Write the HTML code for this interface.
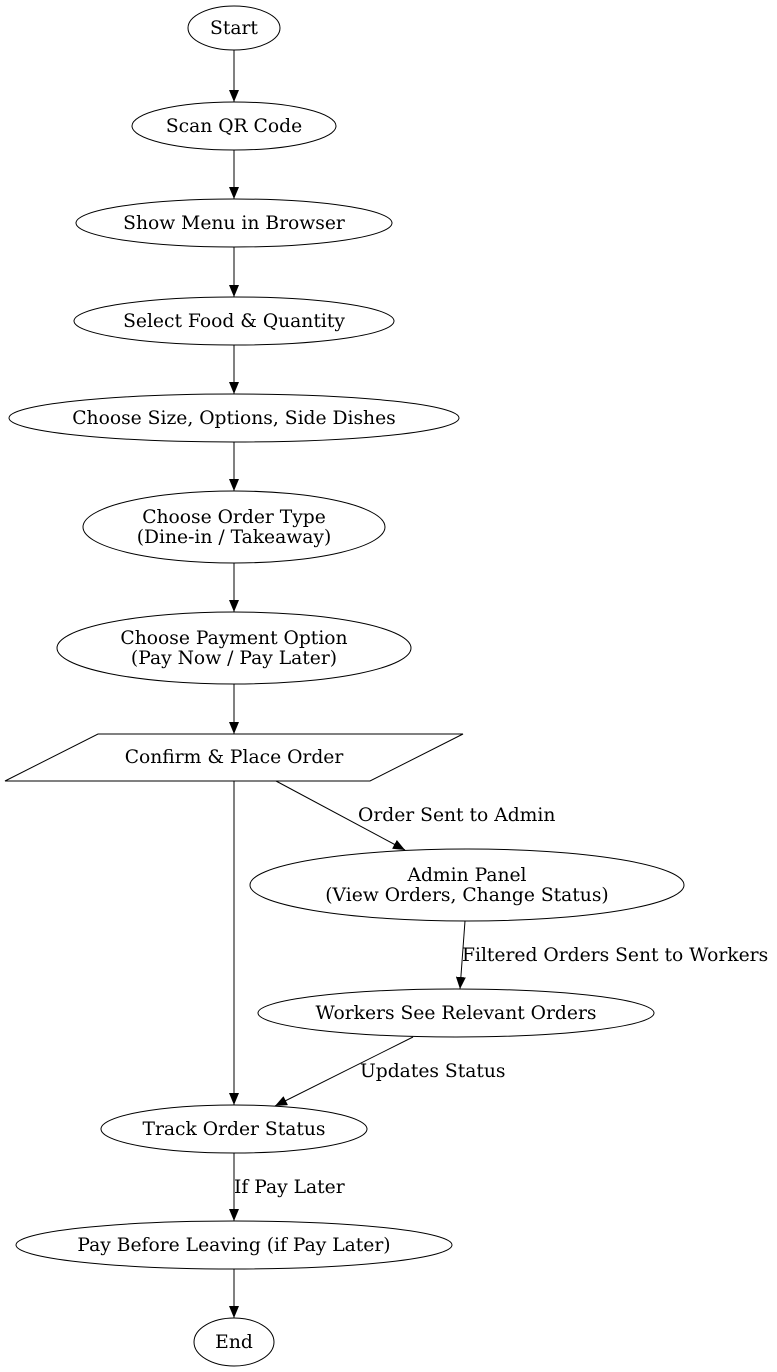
<!DOCTYPE html>
<html><head><style>
html,body{margin:0;padding:0;background:#fff;}
svg{display:block;}
text{font-family:"DejaVu Serif",serif;font-size:18.7px;fill:#000;}
</style></head><body>
<svg width="777" height="1372" viewBox="0 0 777 1372" xmlns="http://www.w3.org/2000/svg">
<defs>
<marker id="a" markerWidth="12" markerHeight="10" refX="12" refY="5" orient="auto" markerUnits="userSpaceOnUse">
<path d="M0,0 L12,5 L0,10 Z" fill="#000"/>
</marker>
</defs>
<g fill="none" stroke="#000" stroke-width="1">
<ellipse cx="234" cy="28" rx="46" ry="22"/>
<ellipse cx="234" cy="126" rx="102" ry="24"/>
<ellipse cx="234" cy="223" rx="158" ry="24"/>
<ellipse cx="234" cy="321" rx="160" ry="24"/>
<ellipse cx="234" cy="418" rx="225" ry="24"/>
<ellipse cx="234" cy="527" rx="151" ry="36"/>
<ellipse cx="234" cy="648" rx="177" ry="36"/>
<polygon points="98,734 463,734 370,781 5,781"/>
<ellipse cx="467" cy="885" rx="217" ry="36"/>
<ellipse cx="456" cy="1013" rx="198" ry="24"/>
<ellipse cx="234" cy="1129" rx="133" ry="24"/>
<ellipse cx="234" cy="1245" rx="218" ry="24"/>
<ellipse cx="234" cy="1342" rx="40" ry="24"/>
<g marker-end="url(#a)">
<line x1="234" y1="50" x2="234" y2="102"/>
<line x1="234" y1="150" x2="234" y2="199"/>
<line x1="234" y1="247" x2="234" y2="297"/>
<line x1="234" y1="345" x2="234" y2="394"/>
<line x1="234" y1="442" x2="234" y2="491"/>
<line x1="234" y1="563" x2="234" y2="612"/>
<line x1="234" y1="684" x2="234" y2="734"/>
<line x1="234" y1="781" x2="234" y2="1105"/>
<line x1="276" y1="781" x2="405" y2="850"/>
<line x1="465" y1="921" x2="460" y2="989"/>
<line x1="413" y1="1037" x2="275" y2="1106"/>
<line x1="234" y1="1153" x2="234" y2="1221"/>
<line x1="234" y1="1269" x2="234" y2="1318"/>
</g>
</g>
<g text-anchor="middle">
<text x="234" y="34">Start</text>
<text x="234" y="132">Scan QR Code</text>
<text x="234" y="229">Show Menu in Browser</text>
<text x="234" y="327">Select Food &amp; Quantity</text>
<text x="234" y="424">Choose Size, Options, Side Dishes</text>
<text x="234" y="523">Choose Order Type</text>
<text x="234" y="543">(Dine-in / Takeaway)</text>
<text x="234" y="644">Choose Payment Option</text>
<text x="234" y="664">(Pay Now / Pay Later)</text>
<text x="234" y="763">Confirm &amp; Place Order</text>
<text x="467" y="881">Admin Panel</text>
<text x="467" y="901">(View Orders, Change Status)</text>
<text x="456" y="1019">Workers See Relevant Orders</text>
<text x="234" y="1135">Track Order Status</text>
<text x="234" y="1251">Pay Before Leaving (if Pay Later)</text>
<text x="234" y="1348">End</text>
</g>
<text x="358" y="821">Order Sent to Admin</text>
<text x="462" y="961">Filtered Orders Sent to Workers</text>
<text x="360" y="1077">Updates Status</text>
<text x="234" y="1193">If Pay Later</text>
</svg>
</body></html>
